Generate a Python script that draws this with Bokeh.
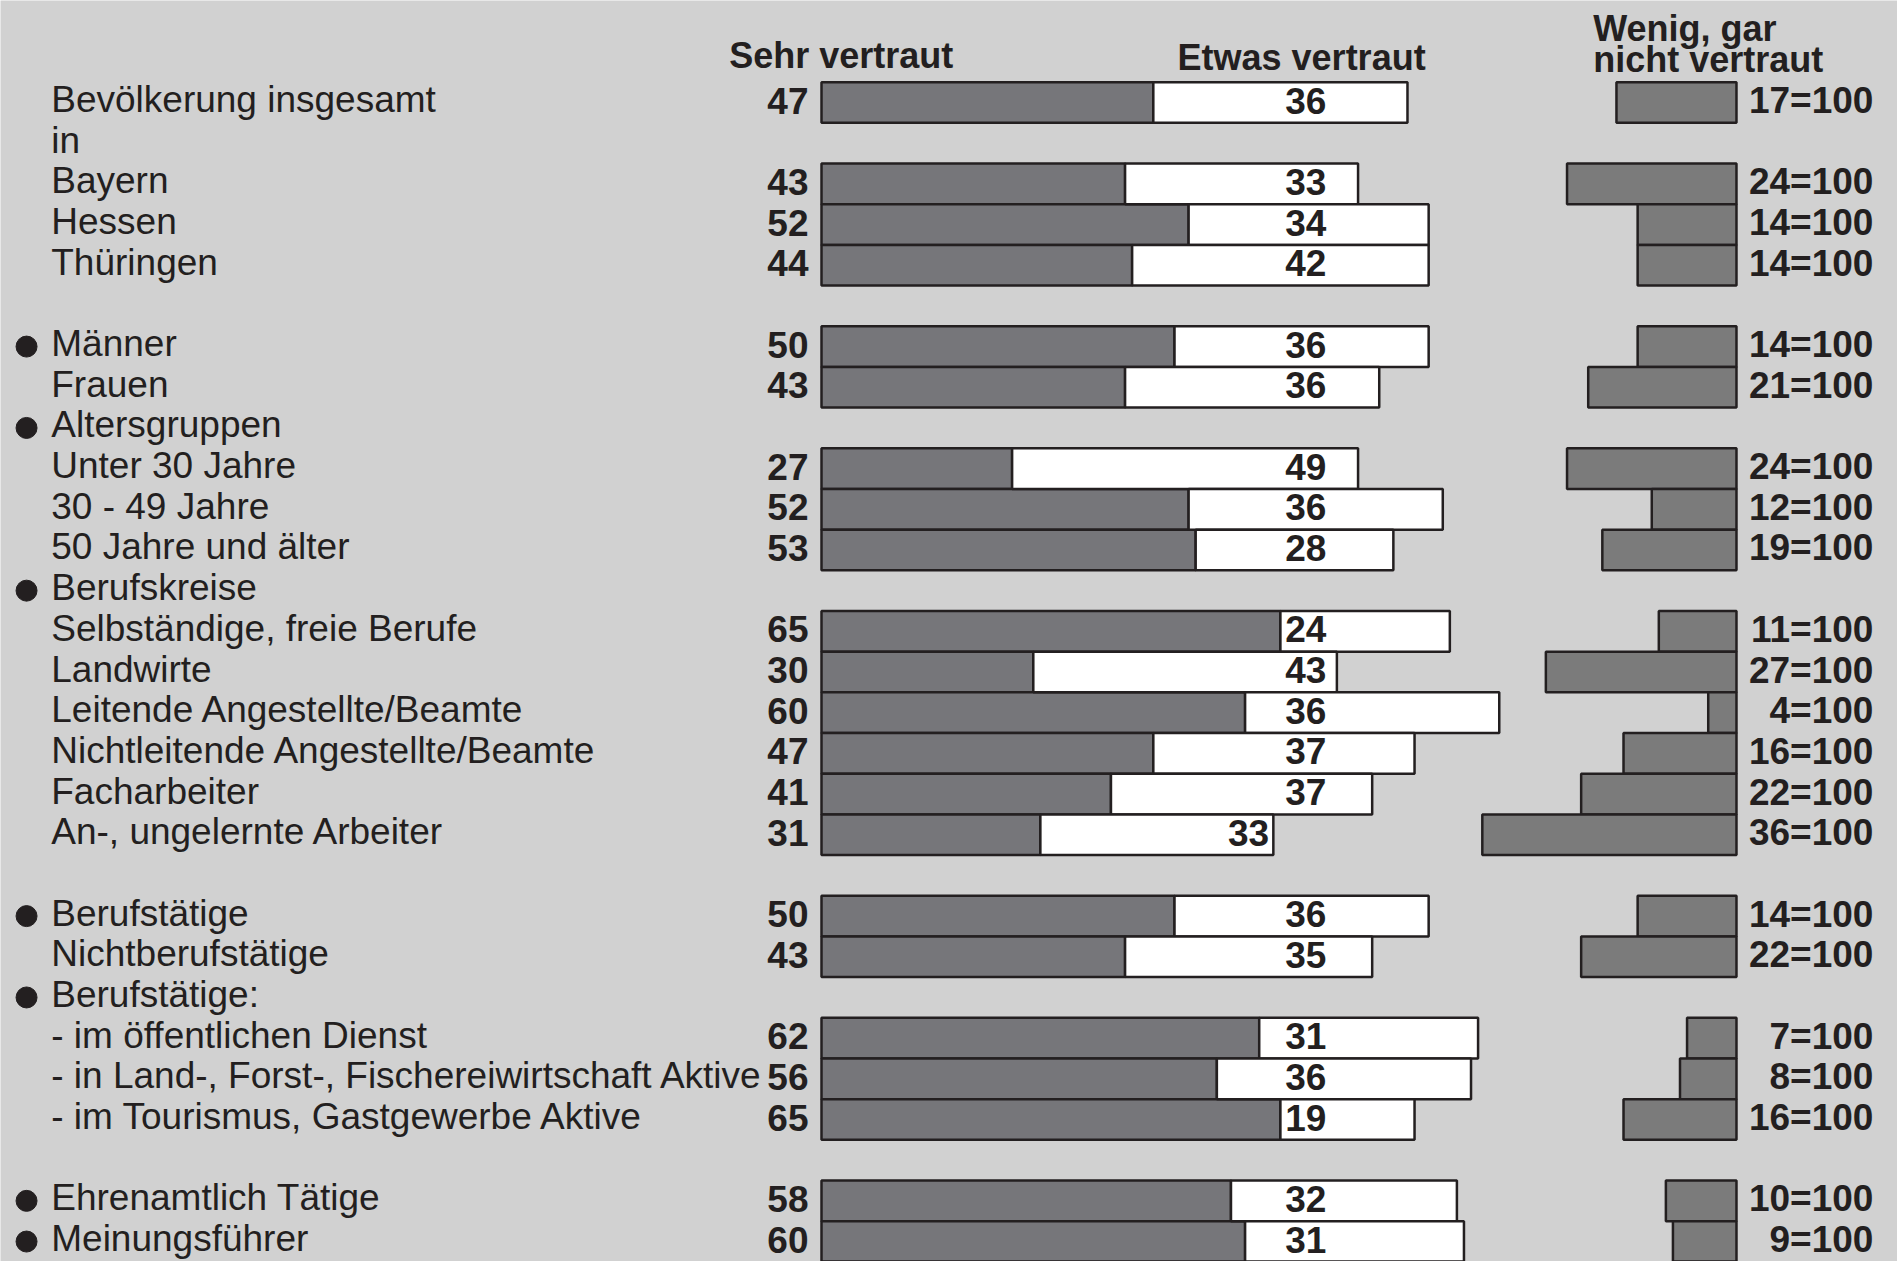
from bokeh.plotting import figure
from bokeh.models import Range1d, ColumnDataSource
from bokeh.core.properties import value
from bokeh.embed import file_html
from bokeh.resources import INLINE

# ---------------- data ----------------
labels = [
    "Bevölkerung insgesamt", "in", "Bayern", "Hessen", "Thüringen", "",
    "Männer", "Frauen", "Altersgruppen", "Unter 30 Jahre", "30 - 49 Jahre",
    "50 Jahre und älter", "Berufskreise", "Selbständige, freie Berufe",
    "Landwirte", "Leitende Angestellte/Beamte", "Nichtleitende Angestellte/Beamte",
    "Facharbeiter", "An-, ungelernte Arbeiter", "", "Berufstätige",
    "Nichtberufstätige", "Berufstätige:", "- im öffentlichen Dienst",
    "- in Land-, Forst-, Fischereiwirtschaft Aktive",
    "- im Tourismus, Gastgewerbe Aktive", "", "Ehrenamtlich Tätige",
    "Meinungsführer",
]
bullets = [0, 0, 0, 0, 0, 0, 1, 0, 1, 0, 0, 0, 1, 0, 0, 0, 0, 0, 0, 0,
           1, 0, 1, 0, 0, 0, 0, 1, 1]
sehr = [47, None, 43, 52, 44, None, 50, 43, None, 27, 52, 53, None, 65, 30, 60,
        47, 41, 31, None, 50, 43, None, 62, 56, 65, None, 58, 60]
etwas = [36, None, 33, 34, 42, None, 36, 36, None, 49, 36, 28, None, 24, 43, 36,
         37, 37, 33, None, 36, 35, None, 31, 36, 19, None, 32, 31]
wenig = [17, None, 24, 14, 14, None, 14, 21, None, 24, 12, 19, None, 11, 27, 4,
         16, 22, 36, None, 14, 22, None, 7, 8, 16, None, 10, 9]
headers = ["Sehr vertraut", "Etwas vertraut", "Wenig, gar", "nicht vertraut"]

# ---------------- layout ----------------
W, H = 1897, 1261
PXU = 7.06          # pixels per percent
X0 = 821            # pixel of 0 %
ROW0 = 102.0        # pixel of first row centre
PITCH = 40.68
RIGHT_END = 129.6   # right block ends here

BG = "#d1d1d1"
DARK = "#76767a"
DARK2 = "#7b7b7b"
INK = "#231f20"
FONT = value("Liberation Sans")

p = figure(width=W, height=H,
           x_range=Range1d(-X0 / PXU, (W - X0) / PXU),
           y_range=Range1d((H - ROW0) / PITCH, -ROW0 / PITCH),
           output_backend="svg", toolbar_location=None, min_border=0,
           x_axis_location=None, y_axis_location=None)
p.grid.visible = False
p.outline_line_color = None
p.background_fill_color = BG
p.border_fill_color = BG

rows = [i for i, v in enumerate(sehr) if v is not None]
s_vals = [sehr[i] for i in rows]
e_vals = [etwas[i] for i in rows]
w_vals = [wenig[i] for i in rows]
ends = [s + e for s, e in zip(s_vals, e_vals)]

src = ColumnDataSource(dict(
    y=rows, s=s_vals, e=e_vals, w=w_vals, end=ends,
    zero=[0] * len(rows),
    wl=[RIGHT_END - w for w in w_vals], wr=[RIGHT_END] * len(rows),
    s_txt=[str(v) for v in s_vals],
    w_txt=[f"{v}=100" for v in w_vals],
))

p.hbar(y="y", left="zero", right="s", height=1.0, source=src,
       fill_color=DARK, line_color=INK, line_width=2.5)
p.hbar(y="y", left="s", right="end", height=1.0, source=src,
       fill_color="white", line_color=INK, line_width=2.5)
p.hbar(y="y", left="wl", right="wr", height=1.0, source=src,
       fill_color=DARK2, line_color=INK, line_width=2.5)

NUM = dict(text_font=FONT, text_font_style="bold", text_font_size="37px",
           text_color=INK, text_baseline="middle", y_offset=-2)

# left numbers
p.text(x=-1.84, y="y", text="s_txt", source=src, text_align="right", **NUM)

# white-bar numbers
c_rows, c_x, c_txt, r_rows, r_x, r_txt = [], [], [], [], [], []
for y, e, end in zip(rows, e_vals, ends):
    if end >= 71.5:
        c_rows.append(y); c_x.append(68.6); c_txt.append(str(e))
    else:
        r_rows.append(y); r_x.append(end - 0.6); r_txt.append(str(e))
p.text(x=c_x, y=c_rows, text=c_txt, text_align="center", **NUM)
if r_rows:
    p.text(x=r_x, y=r_rows, text=r_txt, text_align="right", **NUM)

# right numbers
p.text(x=149.0, y="y", text="w_txt", source=src, text_align="right", **NUM)

# row labels
lab_rows = [i for i, t in enumerate(labels) if t]
p.text(x=[-109.1] * len(lab_rows), y=lab_rows, text=[labels[i] for i in lab_rows],
       text_font=FONT, text_font_size="37px", text_color=INK,
       text_align="left", text_baseline="middle", y_offset=-3)
b_rows = [i for i, b in enumerate(bullets) if b]
p.scatter(x=[-112.6] * len(b_rows), y=b_rows, size=21, marker="circle",
          fill_color=INK, line_color=INK)

# headers
HDR = dict(text_font=FONT, text_font_style="bold", text_font_size="36px",
           text_color=INK, text_baseline="middle")
p.text(x=[2.8, 68.0], y=[-1.155, -1.096], text=headers[:2], text_align="center", **HDR)
p.text(x=[109.3, 109.3], y=[-1.831, -1.045], text=headers[2:], text_align="left", **HDR)

open("out.html", "w").write(file_html(p, INLINE))
